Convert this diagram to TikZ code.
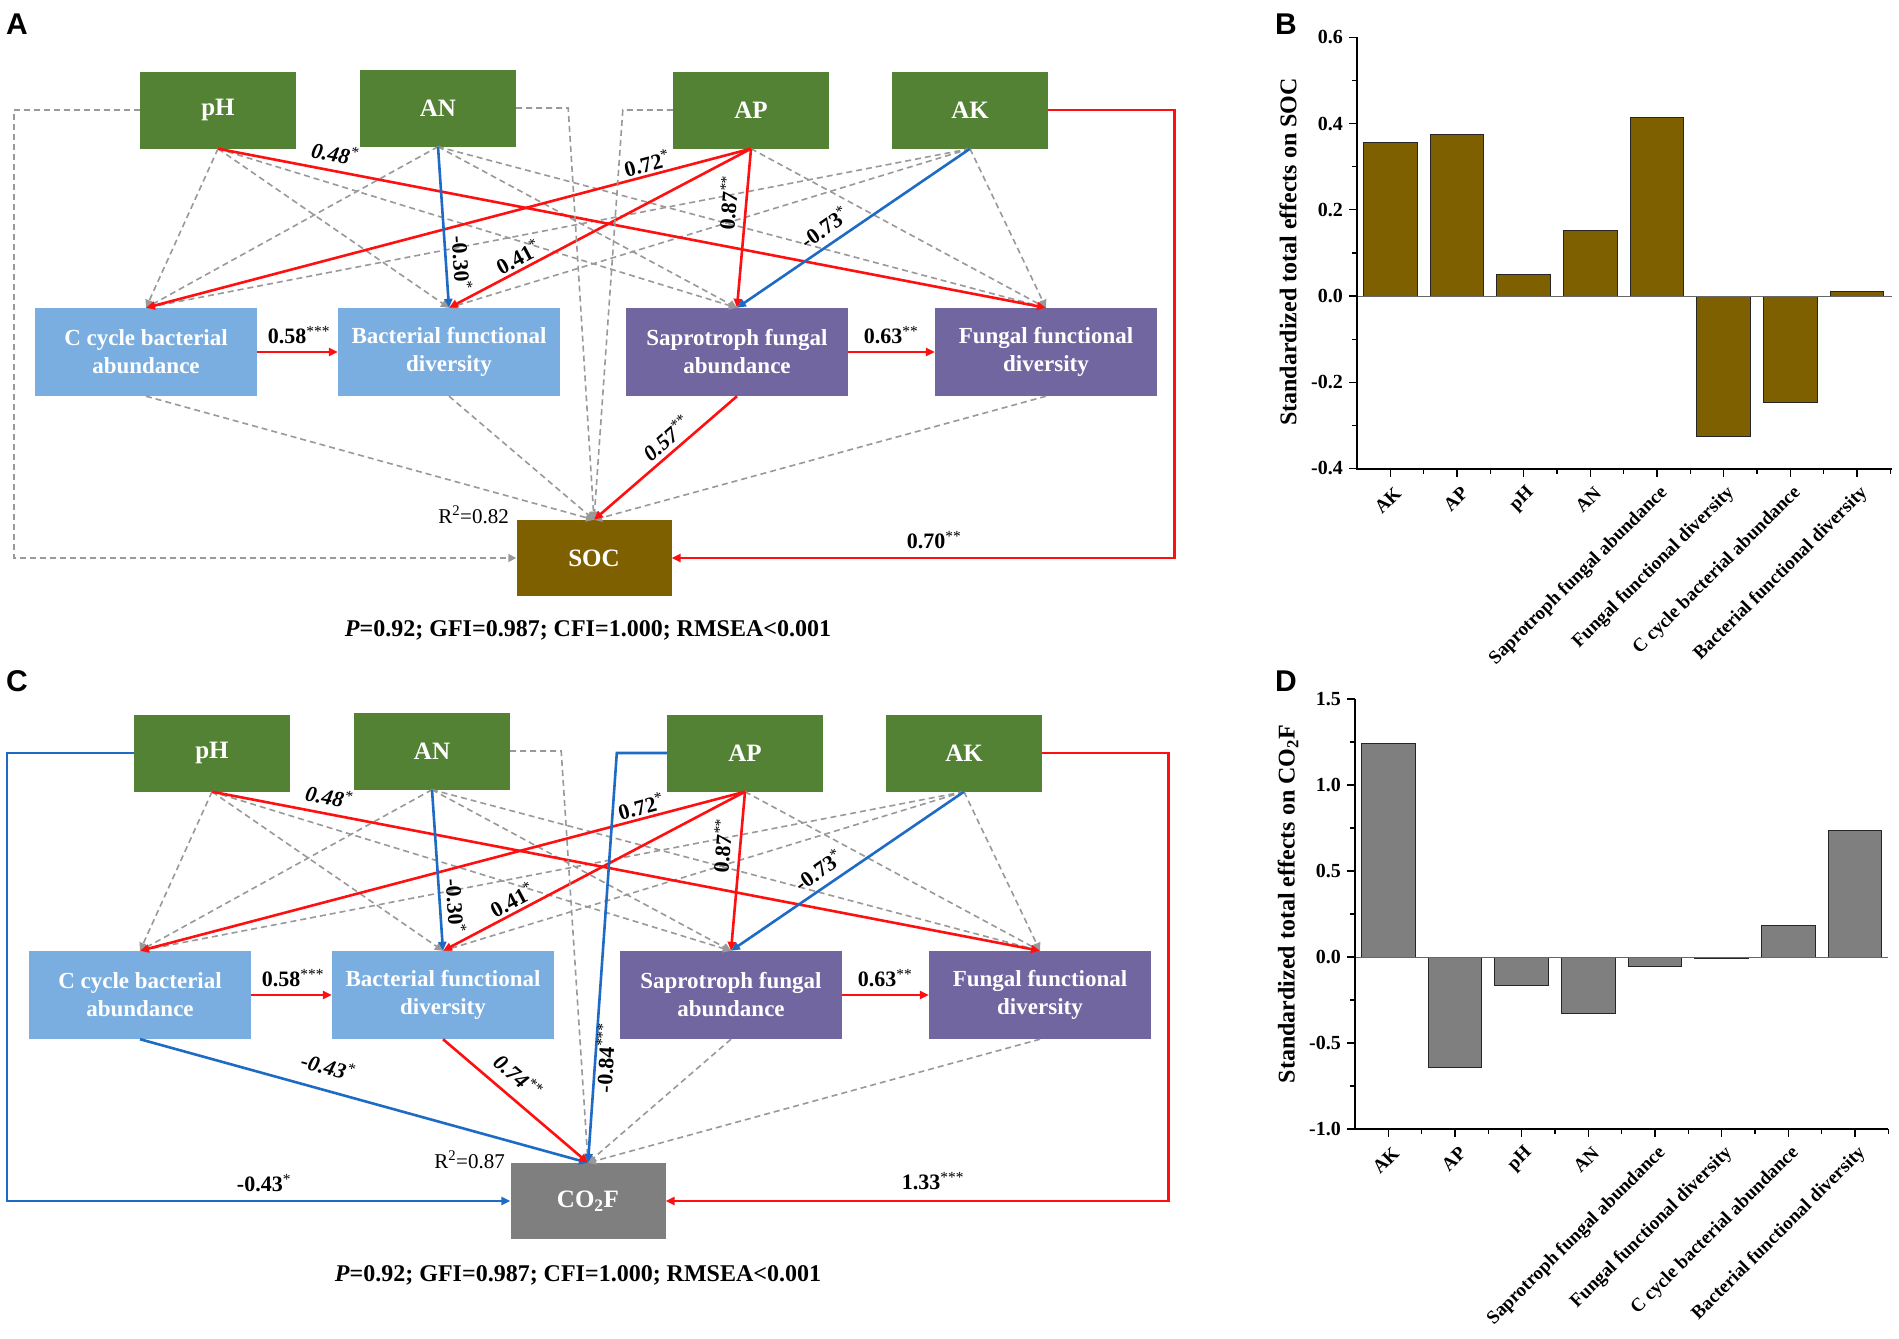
\documentclass[tikz,border=0pt]{standalone}
\usepackage{fontspec}
\setmainfont{Liberation Serif}
\newfontfamily\letterfont{Liberation Sans}
\usetikzlibrary{arrows.meta,positioning,calc}
\definecolor{soilgreen}{HTML}{548235}
\definecolor{bactblue}{HTML}{7AAEE0}
\definecolor{fungpurple}{HTML}{7166A0}
\definecolor{socbrown}{HTML}{7F6000}
\definecolor{fluxgray}{HTML}{7F7F7F}
\definecolor{posred}{HTML}{FF1010}
\definecolor{negblue}{HTML}{1E6BC6}
\definecolor{nsgray}{HTML}{999999}
\newcommand{\sig}[1]{\textsuperscript{\mdseries #1}}

\begin{document}
\begin{tikzpicture}[x=1pt,y=-1pt,
  soilbox/.style={fill=soilgreen,text=white,minimum width=156pt,minimum height=77pt,inner sep=0pt,font=\fontsize{25}{28}\selectfont\bfseries},
  microbox/.style={text=white,minimum width=222pt,minimum height=88pt,inner sep=0pt,align=center,font=\fontsize{23}{28}\selectfont\bfseries},
  bactbox/.style={microbox,fill=bactblue},
  fungbox/.style={microbox,fill=fungpurple},
  targetbox/.style={text=white,minimum width=155pt,minimum height=76pt,inner sep=0pt,font=\fontsize{25}{28}\selectfont\bfseries},
  posarrow/.style={posred,line width=2.6pt,-{Triangle[length=9pt,width=8pt]}},
  negarrow/.style={negblue,line width=2.6pt,-{Triangle[length=9pt,width=8pt]}},
  nsarrow/.style={nsgray,line width=1.6pt,dash pattern=on 6pt off 4pt,-{Triangle[length=8pt,width=8pt]}},
  coef/.style={font=\fontsize{22}{24}\selectfont\bfseries,inner sep=1pt},
  fitnote/.style={font=\fontsize{24}{26}\selectfont\bfseries},
  panel/.style={font=\letterfont\fontsize{30}{32}\selectfont\bfseries},
  bar/.style={draw=black!85,line width=0.9pt},
  ticklab/.style={anchor=east,font=\fontsize{20}{22}\selectfont\bfseries,inner sep=0pt},
  xlab/.style={anchor=east,rotate=45,font=\fontsize{19}{21}\selectfont\bfseries,inner sep=0pt},
  ytitle/.style={rotate=90,font=\fontsize{24}{26}\selectfont\bfseries}]
\useasboundingbox (0,0) rectangle (1899,1339);
\fill[white] (0,0) rectangle (1899,1339);

% panel letters
\node[panel] (la) at (17,24) {A};
\node[panel] (lb) at (1286,24) {B};
\node[panel] (lc) at (17,681) {C};
\node[panel] (ld) at (1286,681) {D};

% SEM boxes, same layout in A and C
\foreach \p/\dx/\dy in {a/0/0,c/-6/643}{
\begin{scope}[shift={(\dx,\dy)}]
\node[soilbox] (\p-ph) at (218,110) {pH};
\node[soilbox] (\p-an) at (438,108) {AN};
\node[soilbox] (\p-ap) at (751,110) {AP};
\node[soilbox] (\p-ak) at (970,110) {AK};
\node[bactbox] (\p-cyc) at (146,352) {C cycle bacterial\\abundance};
\node[bactbox] (\p-bdiv) at (449,352) {Bacterial functional\\diversity};
\node[fungbox] (\p-sap) at (737,352) {Saprotroph fungal\\abundance};
\node[fungbox] (\p-fdiv) at (1046,352) {Fungal functional\\diversity};
\end{scope}
}

% paths between soil and microbial boxes
\foreach \p in {a,c}{
\foreach \s/\t in {ph/cyc,ph/bdiv,ph/sap,an/cyc,an/sap,an/fdiv,ap/fdiv,ak/cyc,ak/bdiv,ak/fdiv}
  {\draw[nsarrow] (\p-\s.south) -- (\p-\t.north);}
\foreach \s/\t in {ph/fdiv,ap/cyc,ap/bdiv,ap/sap}
  {\draw[posarrow] (\p-\s.south) -- (\p-\t.north);}
\foreach \s/\t in {an/bdiv,ak/sap}
  {\draw[negarrow] (\p-\s.south) -- (\p-\t.north);}
\draw[posarrow] (\p-cyc) -- (\p-bdiv);
\draw[posarrow] (\p-sap) -- (\p-fdiv);
}

% coefficients, same in A and C
\foreach \p/\dx/\dy in {a/0/0,c/-6/643}{
\begin{scope}[shift={(\dx,\dy)}]
\node[coef,rotate=-11] (\p-k48) at (335,153) {\itshape 0.48\sig{*}};
\node[coef,rotate=15] (\p-k72) at (647,163) {0.72\sig{*}};
\node[coef,rotate=-86] (\p-k30) at (462,263) {-0.30\sig{*}};
\node[coef,rotate=28] (\p-k41) at (518,257) {0.41\sig{*}};
\node[coef,rotate=85] (\p-k87) at (728,203) {0.87\sig{**}};
\node[coef,rotate=35] (\p-k73) at (824,227) {-0.73\sig{*}};
\node[coef] (\p-k58) at (299,335) {0.58\sig{***}};
\node[coef] (\p-k63) at (891,335) {0.63\sig{**}};
\end{scope}
}

% A: SOC
\node[targetbox,fill=socbrown] (soc) at (594,558) {SOC};
\foreach \s in {cyc,bdiv,fdiv}{\draw[nsarrow] (a-\s.south) -- (soc.north);}
\draw[nsarrow] (a-an.east) -- ++(52,0) -- (soc.north);
\draw[nsarrow] (a-ap.west) -- ++(-50,0) -- (soc.north);
\draw[nsarrow] (a-ph.west) -- ++(-126,0) |- (soc.west);
\draw[posarrow] (a-sap.south) -- (soc.north);
\draw[posarrow] (a-ak.east) -- ++(126,0) |- (soc.east);
\node[coef,rotate=41] (k57) at (666,438) {\itshape 0.57\sig{**}};
\node[coef] (k70) at (934,540) {0.70\sig{**}};
\node[coef,anchor=east,font=\fontsize{21}{23}\selectfont] (rsoc) at (510,515) {R\textsuperscript{2}=0.82};
\node[fitnote] (fita) at (588,630) {\textit{P}=0.92; GFI=0.987; CFI=1.000; RMSEA<0.001};

% C: CO2F
\node[targetbox,fill=fluxgray] (cof) at (588,1201) {CO\textsubscript{2}F};
\foreach \s in {sap,fdiv}{\draw[nsarrow] (c-\s.south) -- (cof.north);}
\draw[nsarrow] (c-an.east) -- ++(51,0) -- (cof.north);
\draw[negarrow] (c-ap.west) -- ++(-50,0) -- (cof.north);
\draw[negarrow] (c-cyc.south) -- (cof.north);
\draw[posarrow] (c-bdiv.south) -- (cof.north);
\draw[negarrow] (c-ph.west) -- ++(-127,0) |- (cof.west);
\draw[posarrow] (c-ak.east) -- ++(126,0) |- (cof.east);
\node[coef,rotate=-15.5] (k43a) at (328,1066) {\itshape -0.43\sig{*}};
\node[coef,rotate=-41] (k74) at (518,1076) {\itshape 0.74\sig{**}};
\node[coef,rotate=87] (k84) at (605,1058) {-0.84\sig{***}};
\node[coef] (k43b) at (264,1183) {-0.43\sig{*}};
\node[coef] (k133) at (933,1181) {1.33\sig{***}};
\node[coef,anchor=east,font=\fontsize{21}{23}\selectfont] (rcof) at (506,1160) {R\textsuperscript{2}=0.87};
\node[fitnote] (fitc) at (578,1275) {\textit{P}=0.92; GFI=0.987; CFI=1.000; RMSEA<0.001};

% B: total effects on SOC
\begin{scope}[shift={(1357,296)}]
\foreach \v [count=\i from 0] in {0.357,0.375,0.049,0.152,0.415,-0.325,-0.246,0.010}
  {\filldraw[bar,fill=socbrown] ({6.5+66.67*\i},0) rectangle ({60.2+66.67*\i},{-431*\v});}
\draw[black!60,line width=1pt] (0,0) -- (535,0);
\draw[line width=1.3pt] (0,-259) -- (0,173) -- (535,173);
\foreach \k/\lab in {-2/-0.4,-1/-0.2,0/0.0,1/0.2,2/0.4,3/0.6}
  {\draw[line width=1.2pt] (0,{-86.2*\k}) -- (-8,{-86.2*\k});
   \node[ticklab] at (-14,{-86.2*\k}) {\lab};}
\foreach \k in {-3,-1,1,3,5}{\draw[line width=1.2pt] (0,{-43.1*\k}) -- (-5,{-43.1*\k});}
\foreach \i in {0,...,7}{\draw[line width=1.2pt] ({33.3+66.67*\i},173) -- ({33.3+66.67*\i},181);}
\foreach \i in {1,...,8}{\draw[line width=1.2pt] ({66.67*\i},173) -- ({66.67*\i},178);}
\foreach \lab [count=\i from 0] in {AK,AP,pH,AN,Saprotroph fungal abundance,Fungal functional diversity,C cycle bacterial abundance,Bacterial functional diversity}
  {\node[xlab] at ({41+66.67*\i},194) {\lab};}
\node[ytitle] at (-69,-44) {Standardized total effects on SOC};
\end{scope}

% D: total effects on CO2F
\begin{scope}[shift={(1355,957)}]
\foreach \v [count=\i from 0] in {1.242,-0.644,-0.165,-0.328,-0.056,-0.010,0.184,0.734}
  {\filldraw[bar,fill=fluxgray] ({6.5+66.67*\i},0) rectangle ({60.2+66.67*\i},{-172*\v});}
\draw[black!60,line width=1pt] (0,0) -- (533,0);
\draw[line width=1.3pt] (0,-258) -- (0,172) -- (533,172);
\foreach \k/\lab in {-2/-1.0,-1/-0.5,0/0.0,1/0.5,2/1.0,3/1.5}
  {\draw[line width=1.2pt] (0,{-86*\k}) -- (-8,{-86*\k});
   \node[ticklab] at (-14,{-86*\k}) {\lab};}
\foreach \k in {-3,-1,1,3,5}{\draw[line width=1.2pt] (0,{-43*\k}) -- (-5,{-43*\k});}
\foreach \i in {0,...,7}{\draw[line width=1.2pt] ({33.3+66.67*\i},172) -- ({33.3+66.67*\i},180);}
\foreach \i in {1,...,8}{\draw[line width=1.2pt] ({66.67*\i},172) -- ({66.67*\i},177);}
\foreach \lab [count=\i from 0] in {AK,AP,pH,AN,Saprotroph fungal abundance,Fungal functional diversity,C cycle bacterial abundance,Bacterial functional diversity}
  {\node[xlab] at ({41+66.67*\i},193) {\lab};}
\node[ytitle] at (-67,-53) {Standardized total effects on CO\textsubscript{2}F};
\end{scope}
\end{tikzpicture}
\end{document}
